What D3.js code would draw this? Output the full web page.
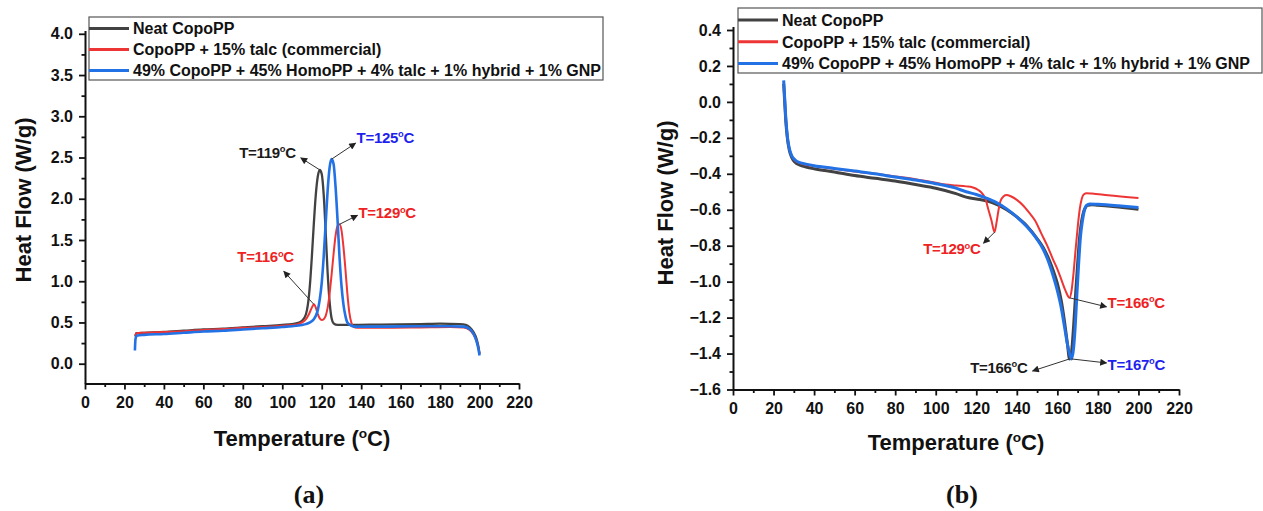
<!DOCTYPE html>
<html>
<head>
<meta charset="utf-8">
<script src="https://cdn.jsdelivr.net/npm/d3@7"></script>
<style>
  body { margin: 0; background: #fff; }
  svg { display: block; }
  text { font-family: "Liberation Sans", Arial, sans-serif; font-weight: bold; }
  text.tag { font-family: "Liberation Serif", "Times New Roman", serif; }
</style>
</head>
<body>
<svg id="chart" width="1263" height="511"></svg>
<script>
// ---- Series legend entries ----
const seriesNames = [
  "Neat CopoPP",
  "CopoPP + 15% talc (commercial)",
  "49% CopoPP + 45% HomoPP + 4% talc + 1% hybrid + 1% GNP"
];

// ---- (a) cooling scan: [temperature (°C), heat flow (W/g)] ----
const coolNeat = [
  [25.5,0.33],[26,0.37],[30,0.375],[40,0.385],[50,0.40],[60,0.415],[70,0.425],[80,0.44],
  [90,0.455],[100,0.47],[105,0.48],[108,0.495],[110,0.52],[112,0.60],[113,0.72],[114,0.95],
  [115,1.3],[116,1.7],[117,2.05],[118,2.27],[119,2.35],[120,2.3],[121,2.05],[122,1.6],
  [123,1.1],[124,0.75],[125,0.55],[126,0.49],[128,0.47],[135,0.47],[150,0.475],[170,0.48],
  [180,0.485],[190,0.48],[193,0.47],[195,0.44],[197,0.38],[198.5,0.3],[199.5,0.2],[200,0.12]
];
const coolTalc = [
  [25.5,0.34],[26,0.37],[30,0.375],[40,0.385],[50,0.395],[60,0.41],[70,0.42],[80,0.435],
  [90,0.445],[100,0.46],[105,0.47],[108,0.48],[110,0.5],[112,0.54],[113.5,0.6],[115,0.68],
  [116,0.72],[117,0.68],[118,0.6],[119,0.55],[120,0.53],[121,0.54],[122,0.58],[123,0.68],
  [124,0.85],[125,1.08],[126,1.33],[127,1.55],[128,1.67],[129,1.69],[130,1.62],[131,1.42],
  [132,1.15],[133,0.85],[134,0.62],[135,0.5],[136,0.45],[138,0.435],[150,0.435],[170,0.44],
  [185,0.445],[192,0.44],[195,0.41],[197,0.35],[198.5,0.27],[199.5,0.18],[200,0.12]
];
const coolHybrid = [
  [25.3,0.16],[25.6,0.30],[26.2,0.34],[30,0.35],[40,0.36],[50,0.375],[60,0.39],[70,0.40],
  [80,0.415],[90,0.43],[100,0.445],[105,0.455],[110,0.47],[112,0.48],[114,0.50],[116,0.54],
  [117,0.58],[118,0.65],[119,0.78],[120,0.98],[121,1.3],[122,1.7],[123,2.1],[124,2.38],
  [125,2.48],[126,2.42],[127,2.15],[128,1.75],[129,1.3],[130,0.95],[131,0.72],[132,0.58],
  [133,0.5],[135,0.46],[137,0.45],[150,0.45],[170,0.455],[185,0.455],[192,0.45],[195,0.42],
  [197,0.36],[198.5,0.27],[199.5,0.17],[200,0.1]
];

// ---- (b) heating scan: [temperature (°C), heat flow (W/g)] ----
const heatNeat = [
  [25,0.1],[25.5,0.0],[26,-0.1],[26.8,-0.2],[27.8,-0.27],[29,-0.31],[30.5,-0.335],[33,-0.352],
  [36,-0.362],[40,-0.372],[50,-0.39],[60,-0.41],[70,-0.425],[80,-0.44],[90,-0.46],[100,-0.48],
  [110,-0.51],[115,-0.53],[120,-0.54],[125,-0.55],[130,-0.57],[135,-0.6],[140,-0.64],
  [145,-0.69],[150,-0.76],[153,-0.81],[156,-0.88],[158,-0.94],[160,-1.01],[162,-1.11],
  [163.5,-1.22],[165,-1.35],[166,-1.43],[167,-1.39],[168,-1.25],[169,-1.07],[170,-0.9],
  [171,-0.75],[172,-0.66],[173,-0.61],[174,-0.585],[175,-0.575],[177,-0.572],[180,-0.575],
  [190,-0.585],[200,-0.597]
];
const heatTalc = [
  [25,0.11],[25.5,0.01],[26,-0.09],[26.8,-0.19],[27.8,-0.26],[29,-0.3],[30.5,-0.325],[33,-0.34],
  [36,-0.35],[40,-0.357],[50,-0.372],[60,-0.387],[70,-0.4],[80,-0.415],[90,-0.43],[100,-0.45],
  [105,-0.46],[110,-0.465],[115,-0.47],[118,-0.475],[121,-0.49],[123,-0.51],[124.5,-0.54],
  [126,-0.6],[127.5,-0.66],[129,-0.725],[130,-0.67],[131,-0.6],[132,-0.55],[133.5,-0.525],
  [135,-0.518],[137,-0.525],[140,-0.545],[143,-0.575],[146,-0.615],[149,-0.66],[152,-0.73],
  [155,-0.8],[158,-0.88],[160,-0.93],[162,-0.99],[164,-1.05],[166,-1.09],[167,-1.05],
  [168,-0.95],[169,-0.82],[170,-0.7],[171,-0.6],[172,-0.54],[173,-0.515],[174.5,-0.508],
  [177,-0.51],[185,-0.52],[200,-0.535]
];
const heatHybrid = [
  [25,0.12],[25.5,0.02],[26,-0.08],[26.8,-0.19],[27.8,-0.26],[29,-0.3],[30.5,-0.322],[33,-0.338],
  [36,-0.346],[40,-0.355],[50,-0.37],[60,-0.385],[70,-0.4],[80,-0.418],[90,-0.435],[100,-0.455],
  [110,-0.48],[115,-0.5],[120,-0.515],[125,-0.535],[130,-0.56],[135,-0.595],[140,-0.64],
  [145,-0.695],[150,-0.765],[153,-0.82],[156,-0.9],[158,-0.97],[160,-1.05],[162,-1.15],
  [163.5,-1.25],[165,-1.35],[166,-1.40],[167,-1.43],[168,-1.37],[168.8,-1.25],[169.6,-1.08],
  [170.5,-0.9],[171.4,-0.75],[172.4,-0.66],[173.4,-0.6],[174.5,-0.575],[176,-0.568],
  [180,-0.57],[190,-0.578],[200,-0.588]
];

// ---- Tick values ----
const xTicks = [0,20,40,60,80,100,120,140,160,180,200,220];
const xMinorTicks = [10,30,50,70,90,110,130,150,170,190,210];
const yTicksA = [0,0.5,1.0,1.5,2.0,2.5,3.0,3.5,4.0];
const yMinorTicksA = [0.25,0.75,1.25,1.75,2.25,2.75,3.25,3.75];
const yTicksB = [-1.6,-1.4,-1.2,-1.0,-0.8,-0.6,-0.4,-0.2,0.0,0.2,0.4];
const yMinorTicksB = [-1.5,-1.3,-1.1,-0.9,-0.7,-0.5,-0.3,-0.1,0.1,0.3];

// ---- Peak temperatures called out on each panel (series index, °C) ----
const peaksA = [[0,119],[2,125],[1,129],[1,116]];
const peaksB = [[1,129],[1,166],[0,166],[2,167]];

// ---- Styling ----
const lineColors = ["#424242", "#ee3535", "#2272e6"];
const labelColors = ["#1a1a1a", "#ee2222", "#1f1fee"];

const svg = d3.select("#chart");
svg.append("rect").attr("width", 1263).attr("height", 511).attr("fill", "#fff");

const defs = svg.append("defs");
defs.append("marker")
  .attr("id", "arrowHead")
  .attr("viewBox", "0 0 10 10")
  .attr("refX", 9).attr("refY", 5)
  .attr("markerWidth", 9).attr("markerHeight", 7)
  .attr("markerUnits", "userSpaceOnUse")
  .attr("orient", "auto")
  .append("path").attr("d", "M0,0 L10,5 L0,10 Z").attr("fill", "#222");

function degreeText(sel, prefix, size) {
  sel.append("tspan").text(prefix);
  sel.append("tspan").text("o").attr("font-size", size * 0.62).attr("dy", -size * 0.38);
  sel.append("tspan").text("C").attr("dy", size * 0.38);
}

function drawPanel(cfg) {
  const g = svg.append("g");
  const x = d3.scaleLinear().domain([0, 220]).range([cfg.x0, cfg.x1]);
  const y = d3.scaleLinear().domain(cfg.yDomain).range(cfg.yRange);

  // curves
  const line = d3.line().x(d => x(d[0])).y(d => y(d[1])).curve(d3.curveMonotoneX);
  cfg.series.forEach((s, i) => {
    g.append("path").datum(s)
      .attr("fill", "none")
      .attr("stroke", lineColors[i])
      .attr("stroke-width", cfg.widths[i])
      .attr("stroke-linejoin", "round")
      .attr("d", line);
  });

  // axes
  const yBottom = y(cfg.yDomain[0]);
  g.append("g").attr("transform", `translate(0,${yBottom})`)
    .call(d3.axisBottom(x).tickValues(xTicks).tickSize(6).tickSizeOuter(0).tickPadding(7.5).tickFormat(d3.format("d")));
  g.append("g").attr("transform", `translate(0,${yBottom})`)
    .call(d3.axisBottom(x).tickValues(xMinorTicks).tickSize(3.5).tickSizeOuter(0).tickFormat(""))
    .select(".domain").remove();
  g.append("g").attr("transform", `translate(${cfg.x0},0)`)
    .call(d3.axisLeft(y).tickValues(cfg.yTicks).tickSize(6).tickSizeOuter(0).tickPadding(6).tickFormat(d3.format(".1f")));
  g.append("g").attr("transform", `translate(${cfg.x0},0)`)
    .call(d3.axisLeft(y).tickValues(cfg.yMinor).tickSize(3.5).tickSizeOuter(0).tickFormat(""))
    .select(".domain").remove();
  g.selectAll(".domain").attr("stroke", "#111").attr("stroke-width", 2);
  g.selectAll(".tick line").attr("stroke", "#111").attr("stroke-width", 1.8);
  g.selectAll(".tick text").attr("font-size", 16).attr("fill", "#111");

  // axis titles
  const xt = g.append("text")
    .attr("x", (cfg.x0 + cfg.x1) / 2).attr("y", cfg.xTitleY)
    .attr("text-anchor", "middle").attr("font-size", 22).attr("fill", "#111");
  degreeText(xt, "Temperature (", 22);
  xt.append("tspan").text(")");

  g.append("text")
    .attr("transform", `translate(${cfg.yTitleX},${cfg.yTitleCy}) rotate(-90)`)
    .attr("text-anchor", "middle").attr("font-size", 22).attr("fill", "#111")
    .text("Heat Flow (W/g)");

  // panel tag
  g.append("text")
    .attr("class", "tag")
    .attr("x", cfg.tagX).attr("y", 503)
    .attr("text-anchor", "middle")
    .attr("font-size", 26).attr("fill", "#111")
    .text(cfg.tag);

  // peak call-outs
  cfg.peaks.forEach(([si, t], k) => {
    const pt = cfg.series[si].find(d => d[0] === t);
    const px = x(pt[0]), py = y(pt[1]);
    const lay = cfg.peakLayout[k];
    g.append("line")
      .attr("x1", px).attr("y1", py)
      .attr("x2", px + lay.ax).attr("y2", py + lay.ay)
      .attr("stroke", "#333").attr("stroke-width", 1)
      .attr("marker-end", "url(#arrowHead)");
    const tx = g.append("text")
      .attr("x", px + lay.tx).attr("y", py + lay.ty)
      .attr("text-anchor", lay.anchor)
      .attr("font-size", 15)
      .attr("letter-spacing", -0.3)
      .attr("fill", labelColors[si]);
    degreeText(tx, "T=" + t, 15);
  });

  // legend
  const lg = g.append("g");
  lg.append("rect")
    .attr("x", cfg.legend.x).attr("y", cfg.legend.y)
    .attr("width", cfg.legend.w).attr("height", cfg.legend.h)
    .attr("fill", "#fff").attr("stroke", "#555").attr("stroke-width", 1.2);
  seriesNames.forEach((name, i) => {
    const cy = cfg.legend.y + cfg.legend.row0 + i * cfg.legend.step;
    lg.append("line")
      .attr("x1", cfg.legend.x).attr("x2", cfg.legend.x + 40)
      .attr("y1", cy).attr("y2", cy)
      .attr("stroke", lineColors[i]).attr("stroke-width", 3);
    lg.append("text")
      .attr("x", cfg.legend.x + 44).attr("y", cy + 5.8)
      .attr("font-size", 16).attr("fill", "#111")
      .text(name);
  });
}

drawPanel({
  x0: 85, x1: 519,
  yDomain: [-0.24, 4.04], yRange: [383.5, 30.5],
  yTicks: yTicksA, yMinor: yMinorTicksA,
  series: [coolNeat, coolTalc, coolHybrid],
  widths: [2.3, 2, 2.6],
  xTitleY: 446, yTitleX: 31, yTitleCy: 200,
  tag: "(a)", tagX: 309,
  peaks: peaksA,
  peakLayout: [
    { ax: -19, ay: -12, tx: -24, ty: -12, anchor: "end" },
    { ax: 24, ay: -16, tx: 25, ty: -16, anchor: "start" },
    { ax: 18, ay: -9, tx: 19, ty: -6, anchor: "start" },
    { ax: -30, ay: -33, tx: -20, ty: -42, anchor: "end" }
  ],
  legend: { x: 89, y: 17, w: 514, h: 63, row0: 11.5, step: 21 }
});

drawPanel({
  x0: 733, x1: 1179,
  yDomain: [-1.6, 0.42], yRange: [389.5, 26.4],
  yTicks: yTicksB, yMinor: yMinorTicksB,
  series: [heatNeat, heatTalc, heatHybrid],
  widths: [3, 2, 3],
  xTitleY: 450, yTitleX: 673, yTitleCy: 203,
  tag: "(b)", tagX: 962,
  peaks: peaksB,
  peakLayout: [
    { ax: -11, ay: 11, tx: -14, ty: 22, anchor: "end" },
    { ax: 37, ay: 9, tx: 38, ty: 10, anchor: "start" },
    { ax: -37, ay: 12, tx: -42, ty: 14, anchor: "end" },
    { ax: 35, ay: 4, tx: 36, ty: 11, anchor: "start" }
  ],
  legend: { x: 738, y: 8, w: 524, h: 65, row0: 12, step: 21.7 }
});
</script>
</body>
</html>
